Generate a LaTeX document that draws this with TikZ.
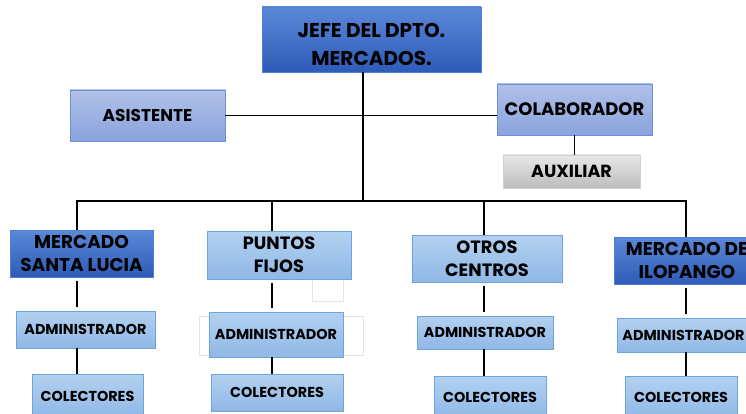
\documentclass[tikz,border=0pt]{standalone}
\usepackage{fontspec}
\setmainfont{Poppins}
\definecolor{darktop}{HTML}{5B88D8}
\definecolor{darkbot}{HTML}{2D5BB7}
\definecolor{darkline}{HTML}{4F7FD2}
\definecolor{midtop}{HTML}{B0C1E9}
\definecolor{midbot}{HTML}{8AA3DD}
\definecolor{midline}{HTML}{6E8FD8}
\definecolor{lighttop}{HTML}{B3D1F0}
\definecolor{lightbot}{HTML}{8FB8E6}
\definecolor{lightline}{HTML}{6FA3DC}
\definecolor{graytop}{HTML}{E8E8E8}
\definecolor{graybot}{HTML}{BCBCBC}
\definecolor{grayline}{HTML}{CFCFCF}
\definecolor{ghostline}{HTML}{E4E4E4}
\begin{document}
\begin{tikzpicture}[x=1pt, y=-1pt,
  every node/.style={inner sep=0pt, align=center},
  darkbox/.style={draw=darkline, top color=darktop, bottom color=darkbot, font=\bfseries\fontsize{18.5}{23}\selectfont},
  midbox/.style={draw=midline, top color=midtop, bottom color=midbot, font=\bfseries\fontsize{17}{20}\selectfont},
  lightbox/.style={draw=lightline, top color=lighttop, bottom color=lightbot, font=\bfseries\fontsize{14.4}{17}\selectfont},
  headbox/.style={lightbox, font=\bfseries\fontsize{17.8}{23}\selectfont},
  graybox/.style={draw=grayline, top color=graytop, bottom color=graybot, font=\bfseries\fontsize{17.5}{20}\selectfont},
  ghostbox/.style={draw=ghostline, fill=white},
  link/.style={draw=black, line width=1.6pt}]
\useasboundingbox (0,0) rectangle (746,414);
\clip (0,0) rectangle (746,414);
% top of the chart
\node[darkbox, minimum width=219, minimum height=65, font=\bfseries\fontsize{20}{28}\selectfont] (jefe) at (371.5,39.5) {\rule{0pt}{24pt}JEFE DEL DPTO.\\MERCADOS.};
\coordinate (trunk) at (363,201);
\draw[link] (jefe.south -| trunk) -- (trunk);
\node[midbox, minimum width=155, minimum height=51] (asis) at (147.5,115.5) {ASISTENTE};
\node[midbox, minimum width=155, minimum height=51, font=\bfseries\fontsize{18}{20}\selectfont] (colab) at (574.5,109.5) {COLABORADOR};
\draw[link] (asis.east) -- (asis.east -| colab.west);
\node[graybox, minimum width=137, minimum height=33] (aux) at (571.5,171.5) {AUXILIAR};
\draw[link] (colab.south) -- (colab.south |- aux.north);
% bus to the four columns
\coordinate (d1) at (77,201);
\coordinate (d2) at (272,201);
\coordinate (d3) at (484,201);
\coordinate (d4) at (686,201);
% ghost outlines
\node[ghostbox, minimum width=31, minimum height=22] (g1) at (327.5,290) {};
\node[ghostbox, minimum width=164, minimum height=39] (g2) at (281,335.5) {};
% headers
\node[darkbox, minimum width=143, minimum height=47] (h1) at (81.5,253.5) {MERCADO\\SANTA LUCIA};
\node[headbox, minimum width=144, minimum height=48] (h2) at (279,255) {PUNTOS\\FIJOS};
\node[headbox, minimum width=150, minimum height=47] (h3) at (487,258.5) {OTROS\\CENTROS};
\node[darkbox, minimum width=146, minimum height=47] (h4) at (687,260.5) {MERCADO DE\\ILOPANGO};
\draw[link] (h1.north -| d1) -- (d1) -- (d4) -- (h4.north -| d4);
\draw[link] (d2) -- (h2.north -| d2);
\draw[link] (d3) -- (h3.north -| d3);
% administradores
\node[lightbox, minimum width=139, minimum height=37] (a1) at (85.5,329.5) {ADMINISTRADOR};
\node[lightbox, minimum width=134, minimum height=45] (a2) at (276,334.5) {ADMINISTRADOR};
\node[lightbox, minimum width=136, minimum height=33] (a3) at (485,332.5) {ADMINISTRADOR};
\node[lightbox, minimum width=133, minimum height=34] (a4) at (683.5,335) {ADMINISTRADOR};
% colectores
\node[lightbox, minimum width=111, minimum height=44] (c1) at (87.5,396) {COLECTORES};
\node[lightbox, minimum width=132, minimum height=37] (c2) at (277,392.5) {COLECTORES};
\node[lightbox, minimum width=112, minimum height=42] (c3) at (490,397) {COLECTORES};
\node[lightbox, minimum width=112, minimum height=42] (c4) at (681,397) {COLECTORES};
\foreach \i in {1,...,4} {
  \draw[link, shorten <=4pt, shorten >=4pt] (h\i.south -| d\i) -- (a\i.north -| d\i);
  \draw[link] (a\i.south -| d\i) -- (c\i.north -| d\i);
}
\end{tikzpicture}
\end{document}
